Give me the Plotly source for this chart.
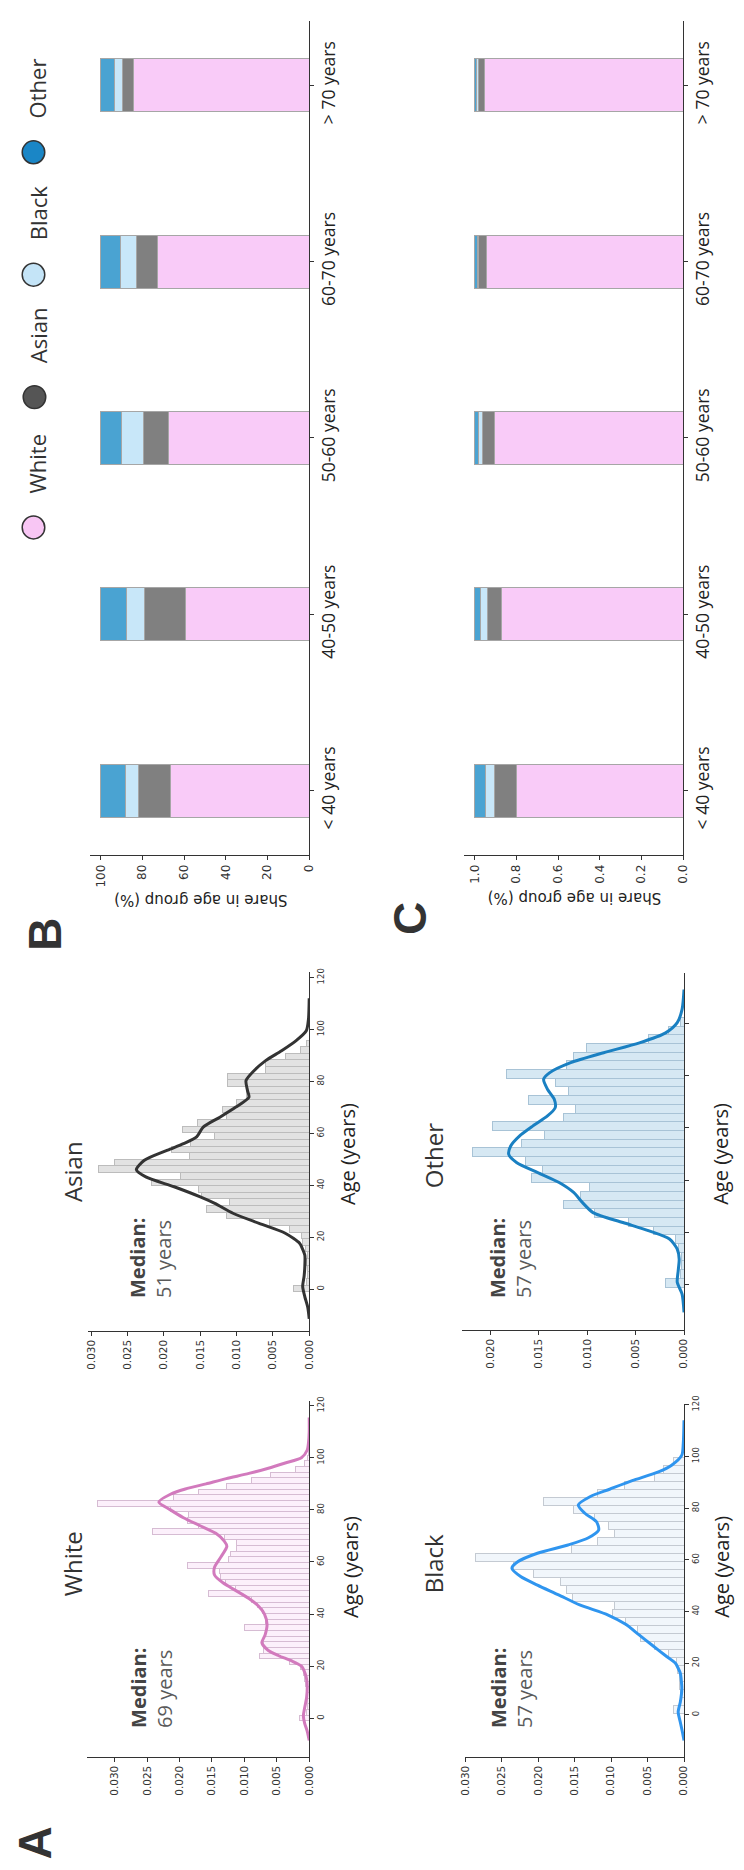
import numpy as np
import plotly.graph_objects as go

W, H = 744, 1870

# ---------------- data ----------------
AGE_GROUPS = ["< 40 years", "40-50 years", "50-60 years", "60-70 years", "> 70 years"]

# Panel B: share in age group (%)
B_WHITE = [66.5, 59.4, 67.5, 72.6, 84.4]
B_ASIAN = [15.6, 19.8, 12.2, 10.4, 5.2]
B_BLACK = [6.1, 8.5, 10.4, 7.6, 3.8]
B_OTHER = [11.8, 12.3, 9.9, 9.4, 6.6]

# Panel C: share in age group (fraction)
C_WHITE = [0.800, 0.870, 0.906, 0.945, 0.952]
C_ASIAN = [0.107, 0.069, 0.055, 0.035, 0.028]
C_BLACK = [0.042, 0.035, 0.020, 0.006, 0.011]
C_OTHER = [0.051, 0.026, 0.019, 0.014, 0.009]

# Age histograms (density per bin), bins given by first edge and width
WHITE_BIN0, WHITE_BINW = -1.0, 2.17
WHITE_HIST = [0.0015, 0.0004, 0.0003, 0.0003, 0.0003, 0.0004, 0.0005, 0.0007, 0.0009, 0.0013,
              0.0030, 0.0077, 0.0070, 0.0070, 0.0070, 0.0068, 0.0100, 0.0067, 0.0067, 0.0072,
              0.0079, 0.0089, 0.0155, 0.0114, 0.0129, 0.0137, 0.0138, 0.0187, 0.0125, 0.0121,
              0.0112, 0.0112, 0.0130, 0.0241, 0.0171, 0.0188, 0.0186, 0.0214, 0.0327, 0.0210,
              0.0170, 0.0128, 0.0089, 0.0059, 0.0021, 0.0007, 0.0003, 0.0001]

BLACK_BIN0, BLACK_BINW = 0.5, 3.1
BLACK_HIST = [0.0014, 0.0005, 0.0005, 0.0006, 0.0006, 0.0009, 0.0010, 0.0021, 0.0041, 0.0059,
              0.0064, 0.0080, 0.0098, 0.0096, 0.0153, 0.0161, 0.0170, 0.0207, 0.0234, 0.0286,
              0.0154, 0.0119, 0.0095, 0.0104, 0.0123, 0.0151, 0.0192, 0.0118, 0.0082, 0.0041,
              0.0028, 0.0014]

ASIAN_BIN0, ASIAN_BINW = -1.0, 2.55
ASIAN_HIST = [0.0021, 0.0004, 0.0003, 0.0003, 0.0004, 0.0003, 0.0005, 0.0009, 0.0011, 0.0027,
              0.0055, 0.0114, 0.0142, 0.0110, 0.0148, 0.0153, 0.0217, 0.0177, 0.0290, 0.0268,
              0.0165, 0.0189, 0.0164, 0.0130, 0.0175, 0.0154, 0.0114, 0.0119, 0.0100, 0.0087,
              0.0087, 0.0112, 0.0112, 0.0060, 0.0060, 0.0033, 0.0012, 0.0004]

OTHER_BIN0, OTHER_BINW = -0.9, 3.33
OTHER_HIST = [0.0019, 0.0004, 0.0003, 0.0003, 0.0006, 0.0009, 0.0032, 0.0057, 0.0092, 0.0124,
              0.0107, 0.0098, 0.0158, 0.0146, 0.0164, 0.0218, 0.0168, 0.0144, 0.0198, 0.0124,
              0.0112, 0.0161, 0.0119, 0.0133, 0.0183, 0.0121, 0.0114, 0.0101, 0.0037, 0.0016,
              0.0004]

# Kernel density curves (age, density)
WHITE_KDE_AGE = [-8.5, -5, -2, 1, 4, 8, 12, 15, 17, 20, 22, 24, 26, 29, 32, 36, 40, 43, 46, 49,
                 52, 55, 58, 62, 66, 68, 71, 74, 77, 80, 83, 86, 88, 90, 92, 94, 96, 98, 100,
                 103, 106, 110, 115.5]
WHITE_KDE = [0.0000, 0.0003, 0.0007, 0.0009, 0.0007, 0.0004, 0.0003, 0.0004, 0.0006, 0.0012,
             0.0027, 0.0047, 0.0063, 0.0073, 0.0068, 0.0065, 0.0069, 0.0078, 0.0093, 0.0113,
             0.0133, 0.0146, 0.0146, 0.0136, 0.0127, 0.0131, 0.0144, 0.0169, 0.0194, 0.0214,
             0.0232, 0.0214, 0.0191, 0.0159, 0.0128, 0.0093, 0.0063, 0.0037, 0.0012, 0.0003,
             0.0001, 0.0000, 0.0000]

BLACK_KDE_AGE = [-10, -7, -3, 1, 5, 10, 14, 16, 18, 20, 23, 27, 31, 35, 38.6, 42.5, 46.4, 50.2,
                 53.5, 56.7, 59.2, 62.5, 65.7, 68.5, 71.5, 74.7, 78, 81.2, 84.4, 87.3, 90.6, 94,
                 96.6, 100.5, 105, 114]
BLACK_KDE = [0.0, 0.0002, 0.0005, 0.0008, 0.0005, 0.0003, 0.0004, 0.0005, 0.0008, 0.0012,
             0.0026, 0.0044, 0.0062, 0.0080, 0.0104, 0.0143, 0.0172, 0.0201, 0.0224, 0.0236,
             0.0228, 0.0201, 0.0159, 0.0131, 0.0117, 0.0120, 0.0136, 0.0145, 0.0129, 0.0102,
             0.0071, 0.0035, 0.0017, 0.0003, 0.0001, 0.0]

ASIAN_KDE_AGE = [-11.5, -7, -3, 1, 5, 9, 13, 16, 17.6, 21.5, 25.3, 29.2, 33, 35.5, 39.4, 43.2,
                 46, 49.6, 53.5, 56, 58.6, 62.4, 66.2, 70.1, 73.9, 76.5, 80.3, 84.1, 88, 91.8,
                 95.7, 99.5, 104, 112]
ASIAN_KDE = [0.0, 0.0002, 0.0006, 0.0009, 0.0007, 0.0006, 0.0006, 0.0010, 0.0013, 0.0033,
             0.0069, 0.0105, 0.0130, 0.0150, 0.0186, 0.0225, 0.0238, 0.0227, 0.0195, 0.0173,
             0.0155, 0.0146, 0.0123, 0.0101, 0.0083, 0.0085, 0.0087, 0.0076, 0.0060, 0.0038,
             0.0018, 0.0004, 0.0001, 0.0]

OTHER_KDE_AGE = [-10.6, -3.6, 0.9, 5.4, 9.8, 13.6, 17.5, 20.6, 23.8, 27.6, 31.5, 35.3, 39.1,
                 42.9, 46.8, 49.9, 53.1, 56.9, 60.8, 64.6, 67.8, 71, 74.8, 78.6, 81.1, 85, 88.8,
                 92.6, 96.4, 100.3, 105.4, 113]
OTHER_KDE = [0.0, 0.0002, 0.0007, 0.0006, 0.0005, 0.0007, 0.0015, 0.0036, 0.0063, 0.0094,
             0.0105, 0.0114, 0.0129, 0.0151, 0.0173, 0.0181, 0.0179, 0.0170, 0.0156, 0.0141,
             0.0133, 0.0134, 0.0141, 0.0145, 0.0139, 0.0117, 0.0083, 0.0046, 0.0019, 0.0007,
             0.0002, 0.0]

MEDIAN_WHITE, MEDIAN_BLACK, MEDIAN_ASIAN, MEDIAN_OTHER = 69, 57, 51, 57

# ---------------- styling ----------------
COL_BAR = {"White": "#f9cbf8", "Asian": "#808080", "Black": "#c8e7f9", "Other": "#4aa3d2"}
COL_LEG = {"White": "#f8c6f4", "Asian": "#555555", "Black": "#c4e4f7", "Other": "#1a86c6"}
HIST_FILL = {"White": "#fcf0fb", "Asian": "#e2e2e2", "Black": "#f1f6fb", "Other": "#d6e8f3"}
HIST_EDGE = {"White": "#d6bcd3", "Asian": "#bcbcbc", "Black": "#c4cad2", "Other": "#a8c3d6"}
KDE_COL = {"White": "#d27abd", "Asian": "#333333", "Black": "#2f95ef", "Other": "#1a80c2"}

TXT = "#333333"
DENS_FONT = dict(family="DejaVu Sans", size=10.5, color=TXT)
SHARE_FONT = dict(family="DejaVu Sans", size=12, color=TXT)


def xdom(a, b):
    return [a / W, b / W]


def ydom(top, bottom):
    return [1 - bottom / H, 1 - top / H]


def px(x, y):
    return x / W, 1 - y / H


fig = go.Figure()

# ---------------- panels B and C: stacked bars ----------------
for ax_id, series in (("", (B_WHITE, B_ASIAN, B_BLACK, B_OTHER)),
                      ("2", (C_WHITE, C_ASIAN, C_BLACK, C_OTHER))):
    for name, vals in zip(["White", "Asian", "Black", "Other"], series):
        fig.add_trace(go.Bar(
            x=vals, y=AGE_GROUPS, orientation="h", width=0.3,
            marker=dict(color=COL_BAR[name], line=dict(color="#a6a6a6", width=1)),
            xaxis="x" + ax_id, yaxis="y" + ax_id, showlegend=False, hoverinfo="skip"))

# ---------------- panel A: histograms with density curves ----------------
hist_specs = [
    ("Asian", "3", ASIAN_BIN0, ASIAN_BINW, ASIAN_HIST, ASIAN_KDE_AGE, ASIAN_KDE),
    ("Other", "4", OTHER_BIN0, OTHER_BINW, OTHER_HIST, OTHER_KDE_AGE, OTHER_KDE),
    ("White", "5", WHITE_BIN0, WHITE_BINW, WHITE_HIST, WHITE_KDE_AGE, WHITE_KDE),
    ("Black", "6", BLACK_BIN0, BLACK_BINW, BLACK_HIST, BLACK_KDE_AGE, BLACK_KDE),
]
for name, ax_id, b0, bw, dens, kage, kden in hist_specs:
    centers = b0 + bw * (np.arange(len(dens)) + 0.5)
    fig.add_trace(go.Bar(
        x=dens, y=centers, orientation="h", width=bw,
        marker=dict(color=HIST_FILL[name], line=dict(color=HIST_EDGE[name], width=1)),
        xaxis="x" + ax_id, yaxis="y" + ax_id, showlegend=False, hoverinfo="skip"))
    fig.add_trace(go.Scatter(
        x=kden, y=kage, mode="lines",
        line=dict(color=KDE_COL[name], width=3, shape="spline", smoothing=0.7),
        xaxis="x" + ax_id, yaxis="y" + ax_id, showlegend=False, hoverinfo="skip"))


# ---------------- axes ----------------
def value_axis(dom, rng, yref, tickvals, fmt, font):
    return dict(domain=xdom(*dom), range=rng, anchor=yref, showline=True, linecolor=TXT,
                linewidth=1, ticks="outside", ticklen=4, tickcolor=TXT, tickangle=-90,
                tickvals=tickvals, tickformat=fmt, tickfont=font, showgrid=False,
                zeroline=False, fixedrange=True)


def age_axis(dom, rng, xref, labels=True):
    return dict(domain=ydom(*dom), range=rng, anchor=xref, side="right", showline=True,
                linecolor=TXT, linewidth=1, ticks="outside", ticklen=4, tickcolor=TXT,
                tickangle=-90, tick0=0, dtick=20, showticklabels=labels,
                tickfont=dict(family="DejaVu Sans", size=8.5, color=TXT), showgrid=False,
                zeroline=False, fixedrange=True)


def cat_axis(dom, xref):
    return dict(domain=ydom(*dom), range=[-0.365, 4.365], anchor=xref, side="right",
                type="category", categoryorder="array", categoryarray=AGE_GROUPS,
                showline=True, linecolor=TXT, linewidth=1, ticks="outside", ticklen=4,
                tickcolor=TXT, tickangle=-90,
                tickfont=dict(family="Open Sans", size=17.5, color="#222222"),
                showgrid=False, zeroline=False, fixedrange=True)


dens_ticks = [0, 0.005, 0.010, 0.015, 0.020, 0.025, 0.030]

layout_axes = dict(
    xaxis=value_axis((85, 308), [105, 0], "y", [0, 20, 40, 60, 80, 100], "d", SHARE_FONT),
    yaxis=cat_axis((12, 850), "x"),
    xaxis2=value_axis((466, 689), [1.05, 0], "y2", [0, 0.2, 0.4, 0.6, 0.8, 1.0], ".1f",
                      SHARE_FONT),
    yaxis2=cat_axis((12, 850), "x2"),
    xaxis3=value_axis((83, 308), [0.0304, 0], "y3", dens_ticks, ".3f", DENS_FONT),
    yaxis3=age_axis((968, 1328), [-16, 122], "x3"),
    xaxis4=value_axis((464, 690), [0.0229, 0], "y4", dens_ticks[:5], ".3f", DENS_FONT),
    yaxis4=age_axis((969, 1327), [-17.2, 119.2], "x4", labels=False),
    xaxis5=value_axis((82, 308), [0.0342, 0], "y5", dens_ticks, ".3f", DENS_FONT),
    yaxis5=age_axis((1399, 1756), [-14.7, 121.7], "x5"),
    xaxis6=value_axis((467, 690), [0.0300, 0], "y6", dens_ticks, ".3f", DENS_FONT),
    yaxis6=age_axis((1402, 1756), [-16.2, 120.2], "x6"),
)

# ---------------- text ----------------
annotations = []


def add_text(text, x, y, size, color=TXT, angle=-90, family="Open Sans",
             xanchor="center", yanchor="middle", align="center"):
    ax, ay = px(x, y)
    annotations.append(dict(text=text, x=ax, y=ay, xref="paper", yref="paper",
                            showarrow=False, textangle=angle, xanchor=xanchor,
                            yanchor=yanchor, align=align,
                            font=dict(family=family, size=size, color=color)))


# group titles
add_text("White", 67, 1562, 24)
add_text("Black", 435, 1562, 24)
add_text("Asian", 67, 1168, 24)
add_text("Other", 435, 1152, 24)

# medians
for med, cx, by in ((MEDIAN_WHITE, 147, 1729), (MEDIAN_BLACK, 514, 1729),
                    (MEDIAN_ASIAN, 147, 1297), (MEDIAN_OTHER, 513, 1297)):
    add_text("<b>Median:</b><br><span style='color:#5a5a5a'>%d years</span>" % med,
             cx, by, 20, color="#444444", yanchor="bottom", align="left")

# age axis titles
add_text("Age (years)", 350, 1565, 20, color="#222222")
add_text("Age (years)", 728, 1565, 20, color="#222222")
add_text("Age (years)", 347, 1150, 20, color="#222222")
add_text("Age (years)", 727, 1150, 20, color="#222222")

# share axis titles (upside down)
add_text("Share in age group (%)", 197, 896, 15, color="#222222", angle=180,
         family="DejaVu Sans")
add_text("Share in age group (%)", 578, 894, 15, color="#222222", angle=180,
         family="DejaVu Sans")

# panel letters
add_text("<b>A</b>", 29, 1843, 46, family="Liberation Sans")
add_text("<b>B</b>", 38, 930, 46, family="Liberation Sans")
add_text("<b>C</b>", 410, 914, 46, family="Liberation Sans")

# legend
shapes = []
legend_items = [("White", 27, 521), ("Asian", 28, 390), ("Black", 27, 267), ("Other", 27, 144)]
R = 11.5
for name, cx, cy in legend_items:
    x0, y1 = px(cx - R, cy - R)
    x1, y0 = px(cx + R, cy + R)
    shapes.append(dict(type="circle", xref="paper", yref="paper", x0=x0, x1=x1, y0=y0, y1=y1,
                       fillcolor=COL_LEG[name], line=dict(color="#333333", width=1.5)))
    add_text(name, 31, cy - R - 21, 22, color="#333333", yanchor="bottom")

fig.update_layout(
    width=W, height=H, autosize=False,
    margin=dict(l=0, r=0, t=0, b=0),
    paper_bgcolor="white", plot_bgcolor="white",
    barmode="stack", showlegend=False,
    annotations=annotations, shapes=shapes,
    **layout_axes,
)

fig.write_html("out.html", config={"displayModeBar": False})
